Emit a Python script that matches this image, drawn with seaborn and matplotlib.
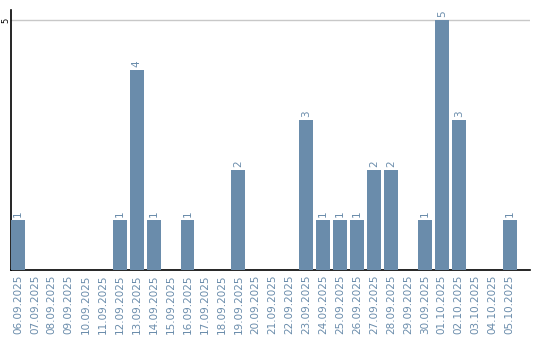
import matplotlib
matplotlib.use("Agg")
import matplotlib.pyplot as plt
import seaborn as sns
import pandas as pd

dates = ["06.09.2025", "07.09.2025", "08.09.2025", "09.09.2025", "10.09.2025",
         "11.09.2025", "12.09.2025", "13.09.2025", "14.09.2025", "15.09.2025",
         "16.09.2025", "17.09.2025", "18.09.2025", "19.09.2025", "20.09.2025",
         "21.09.2025", "22.09.2025", "23.09.2025", "24.09.2025", "25.09.2025",
         "26.09.2025", "27.09.2025", "28.09.2025", "29.09.2025", "30.09.2025",
         "01.10.2025", "02.10.2025", "03.10.2025", "04.10.2025", "05.10.2025"]
counts = [1, 0, 0, 0, 0, 0, 1, 4, 1, 0,
          1, 0, 0, 2, 0, 0, 0, 3, 1, 1,
          1, 2, 2, 0, 1, 5, 3, 0, 0, 1]
y_ticks = [5]

bar_color = "#6a8cab"
text_color = "#6a8cab"

df = pd.DataFrame({"date": dates, "count": counts})

sns.set_style("white")
plt.rcParams["font.family"] = ["DejaVu Sans"]

fig = plt.figure(figsize=(5.4, 3.4), dpi=100)
ax = fig.add_axes([11 / 540, 70 / 340, 519 / 540, 260 / 340])

sns.barplot(data=df, x="date", y="count", color=bar_color, width=0.82,
            saturation=1, ax=ax, zorder=3, linewidth=0, edgecolor="none")

ax.set_xlim(-0.41, 30.2)
ax.set_ylim(0, 5.2)
ax.set_yticks(y_ticks)
ax.set_yticklabels([str(v) for v in y_ticks], rotation=90, va="center",
                   ha="center", fontsize=6, color="black")
ax.tick_params(axis="y", length=0, pad=4)
ax.tick_params(axis="x", length=0, pad=3)
ax.set_xticks(range(len(dates)))
ax.set_xticklabels(dates, rotation=90, fontsize=7.5, color=text_color)
ax.yaxis.grid(True, color="#c8c8c8", linewidth=1, zorder=0)
ax.set_xlabel("")
ax.set_ylabel("")

for s in ["top", "right"]:
    ax.spines[s].set_visible(False)
for s in ["left", "bottom"]:
    ax.spines[s].set_color("black")
    ax.spines[s].set_linewidth(1.2)

for i, v in enumerate(counts):
    if v > 0:
        ax.annotate(str(v), (i, v), xytext=(0, 2), textcoords="offset points",
                    rotation=90, ha="center", va="bottom", fontsize=7.5,
                    color=text_color)

fig.savefig("out.png", dpi=100)
